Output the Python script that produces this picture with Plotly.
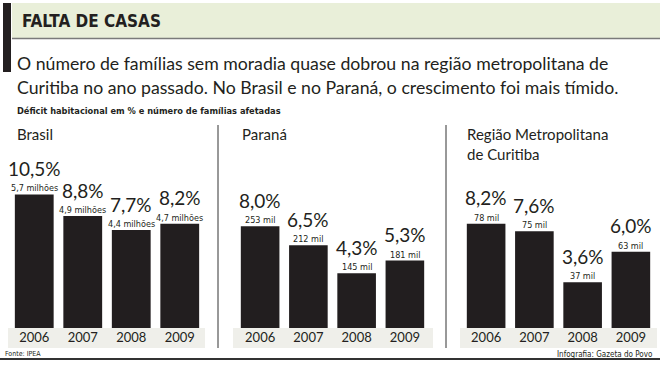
import plotly.graph_objects as go

W, H = 660, 365

years = ["2006", "2007", "2008", "2009"]
panels = ["Brasil", "Paraná", "Região Metropolitana<br>de Curitiba"]
brasil_pct = [10.5, 8.8, 7.7, 8.2]
brasil_fam = ["5,7 milhões", "4,9 milhões", "4,4 milhões", "4,7 milhões"]
parana_pct = [8.0, 6.5, 4.3, 5.3]
parana_fam = ["253 mil", "212 mil", "145 mil", "181 mil"]
rmc_pct = [8.2, 7.6, 3.6, 6.0]
rmc_fam = ["78 mil", "75 mil", "37 mil", "63 mil"]

title = "FALTA DE CASAS"
subtitle1 = "O número de famílias sem moradia quase dobrou na região metropolitana de"
subtitle2 = "Curitiba no ano passado. No Brasil e no Paraná, o crescimento foi mais tímido."
unit_note = "Déficit habitacional em % e número de famílias afetadas"
source = "Fonte: IPEA"
credit = "Infografia: Gazeta do Povo"

BAR = "#221e1f"
TXT = "#231f20"
NARROW = "Liberation Sans Narrow, DejaVu Sans Condensed, Roboto, sans-serif"
MAIN = "Lato, Open Sans, sans-serif"


def px(x):
    return x / W


def py(y):
    return 1 - y / H


# vertical scale: bottom at y=328 px, 12.72 px per percentage point
Y_BOTTOM = 328
PPU = 12.72
YMAX = 15
ydom = [py(Y_BOTTOM), py(Y_BOTTOM - YMAX * PPU)]

xdoms = [[px(10), px(204)], [px(236), px(429)], [px(462), px(655)]]
bands = [(8, 205), (233, 433), (460, 657)]
series = [(brasil_pct, brasil_fam), (parana_pct, parana_fam), (rmc_pct, rmc_fam)]

fig = go.Figure()
annotations = []
shapes = []

for i, (pct, fam) in enumerate(series):
    sfx = "" if i == 0 else str(i + 1)
    fig.add_trace(go.Bar(x=years, y=pct, marker=dict(color=BAR, line=dict(width=0)),
                         xaxis="x" + sfx, yaxis="y" + sfx, showlegend=False,
                         hoverinfo="x+y"))
    fig.layout["xaxis" + sfx] = dict(domain=xdoms[i], type="category", range=[-0.5, 3.5],
                                     showgrid=False, zeroline=False, showline=False,
                                     ticks="", tickfont=dict(family=MAIN, size=13, color=TXT),
                                     anchor="y" + sfx, fixedrange=True)
    fig.layout["yaxis" + sfx] = dict(domain=ydom, range=[0, YMAX], visible=False,
                                     anchor="x" + sfx, fixedrange=True)
    for j, (v, f) in enumerate(zip(pct, fam)):
        # j is the category index of years[j] on this category axis
        annotations.append(dict(x=j, y=v, xref="x" + sfx, yref="y" + sfx,
                                text=f"{v:.1f}%".replace(".", ","), showarrow=False,
                                yanchor="middle", yshift=26,
                                font=dict(family=MAIN, size=19, color=TXT)))
        annotations.append(dict(x=j, y=v, xref="x" + sfx, yref="y" + sfx,
                                text=f, showarrow=False, yanchor="bottom", yshift=-1,
                                font=dict(family=NARROW, size=9, color=TXT)))
    b0, b1 = bands[i]
    shapes.append(dict(type="rect", xref="paper", yref="paper", x0=px(b0), x1=px(b1),
                       y0=py(348), y1=py(Y_BOTTOM), fillcolor="#efefea", line=dict(width=0),
                       layer="below"))

# panel titles
panel_x = [15, 240, 465]
for name, x in zip(panels, panel_x):
    annotations.append(dict(x=px(x), y=py(123), xref="paper", yref="paper", text=name,
                            showarrow=False, xanchor="left", yanchor="top", align="left",
                            font=dict(family=MAIN, size=15, color=TXT)))

# header
shapes += [
    dict(type="rect", xref="paper", yref="paper", x0=px(12), x1=1, y0=py(38), y1=py(3),
         fillcolor="#e9efd9", line=dict(width=0), layer="below"),
    dict(type="line", xref="paper", yref="paper", x0=px(12), x1=1, y0=py(38.5), y1=py(38.5),
         line=dict(color="#7a7a7a", width=1.5)),
    dict(type="rect", xref="paper", yref="paper", x0=px(3), x1=px(11), y0=py(72), y1=py(3),
         fillcolor="#231f20", line=dict(width=0)),
    dict(type="line", xref="paper", yref="paper", x0=px(218), x1=px(218), y0=py(348), y1=py(125),
         line=dict(color="#333333", width=1)),
    dict(type="line", xref="paper", yref="paper", x0=px(446), x1=px(446), y0=py(348), y1=py(125),
         line=dict(color="#333333", width=1)),
    dict(type="line", xref="paper", yref="paper", x0=0, x1=1, y0=py(359), y1=py(359),
         line=dict(color="#333333", width=2)),
]

annotations += [
    dict(x=px(20), y=py(20.5), xref="paper", yref="paper", text="<b>" + title + "</b>",
         showarrow=False, xanchor="left", yanchor="middle",
         font=dict(family=NARROW, size=17, color=TXT)),
    dict(x=px(15), y=py(63), xref="paper", yref="paper", text=subtitle1, showarrow=False,
         xanchor="left", yanchor="middle", font=dict(family=MAIN, size=17.7, color=TXT)),
    dict(x=px(15), y=py(87), xref="paper", yref="paper", text=subtitle2, showarrow=False,
         xanchor="left", yanchor="middle", font=dict(family=MAIN, size=17.7, color=TXT)),
    dict(x=px(15), y=py(111), xref="paper", yref="paper", text="<b>" + unit_note + "</b>",
         showarrow=False, xanchor="left", yanchor="middle",
         font=dict(family=NARROW, size=9.2, color=TXT)),
    dict(x=px(3), y=py(354), xref="paper", yref="paper", text=source, showarrow=False,
         xanchor="left", yanchor="middle", font=dict(family=NARROW, size=7, color=TXT)),
    dict(x=px(655), y=py(354), xref="paper", yref="paper", text=credit, showarrow=False,
         xanchor="right", yanchor="middle", font=dict(family=NARROW, size=8, color=TXT)),
]

fig.update_layout(width=W, height=H, margin=dict(l=0, r=0, t=0, b=0),
                  paper_bgcolor="white", plot_bgcolor="rgba(0,0,0,0)",
                  bargap=0.2, annotations=annotations, shapes=shapes)

fig.write_html("out.html", config={"displayModeBar": False},
               post_script="document.body.style.margin='0';document.body.style.overflow='hidden';")
